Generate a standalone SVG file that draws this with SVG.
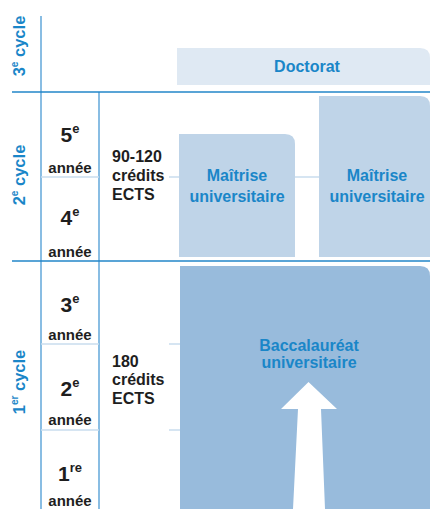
<svg xmlns="http://www.w3.org/2000/svg" width="430" height="509" viewBox="0 0 430 509">
<style>
.rule{stroke:#2286c9;stroke-width:1.5;fill:none}
.vrule{stroke:#4a9ad4;stroke-width:1.3;fill:none}
.light{stroke:#c9dcee;stroke-width:1.5;fill:none}
.cyc{font-family:"Liberation Sans",Arial,sans-serif;font-weight:bold;font-size:16.5px;fill:#1a86c8}
.yr{font-family:"Liberation Sans",Arial,sans-serif;font-weight:bold;font-size:21px;fill:#1e1e1e;text-anchor:middle}
.an{font-family:"Liberation Sans",Arial,sans-serif;font-weight:bold;font-size:15px;fill:#1e1e1e;text-anchor:middle}
.cr{font-family:"Liberation Sans",Arial,sans-serif;font-weight:bold;font-size:16px;fill:#1e1e1e}
.lab{font-family:"Liberation Sans",Arial,sans-serif;font-weight:bold;font-size:16px;fill:#1a86c8;text-anchor:middle}
.sup{font-size:13px}
.csup{font-size:10px}
</style>
<rect width="430" height="509" fill="#ffffff"/>
<g id="grid">
<line class="vrule" x1="41" y1="16" x2="41" y2="509"/>
<line class="vrule" x1="99" y1="92" x2="99" y2="509"/>
<line class="rule" x1="12" y1="92" x2="430" y2="92"/>
<line class="rule" x1="12" y1="261" x2="430" y2="261"/>
<line class="light" x1="41" y1="177" x2="99" y2="177"/>
<line class="light" x1="41" y1="344" x2="99" y2="344"/>
<line class="light" x1="41" y1="430" x2="99" y2="430"/>
</g>
<g id="cycles">
<text class="cyc" transform="translate(25,46) rotate(-90)" text-anchor="middle">3<tspan class="csup" dy="-7">e</tspan><tspan dy="7"> cycle</tspan></text>
<text class="cyc" transform="translate(25,175) rotate(-90)" text-anchor="middle">2<tspan class="csup" dy="-7">e</tspan><tspan dy="7"> cycle</tspan></text>
<text class="cyc" transform="translate(25,382) rotate(-90)" text-anchor="middle">1<tspan class="csup" dy="-7">er</tspan><tspan dy="7"> cycle</tspan></text>
</g>
<g id="years">
<text class="yr" x="70" y="142">5<tspan class="sup" dy="-9">e</tspan></text>
<text class="an" x="70" y="173">année</text>
<text class="yr" x="70" y="225">4<tspan class="sup" dy="-9">e</tspan></text>
<text class="an" x="70" y="257">année</text>
<text class="yr" x="70" y="312">3<tspan class="sup" dy="-9">e</tspan></text>
<text class="an" x="70" y="340">année</text>
<text class="yr" x="70" y="396">2<tspan class="sup" dy="-9">e</tspan></text>
<text class="an" x="70" y="425">année</text>
<text class="yr" x="70" y="481">1<tspan class="sup" dy="-9">re</tspan></text>
<text class="an" x="70" y="506">année</text>
</g>
<g id="credits">
<text class="cr" x="112" y="162">90-120</text>
<text class="cr" x="112" y="181">crédits</text>
<text class="cr" x="112" y="200">ECTS</text>
<text class="cr" x="112" y="367">180</text>
<text class="cr" x="112" y="385">crédits</text>
<text class="cr" x="112" y="404">ECTS</text>
</g>
<g id="connectors">
<line class="light" x1="169" y1="177" x2="179" y2="177"/>
<line class="light" x1="295" y1="177" x2="319" y2="177"/>
<line class="light" x1="169" y1="344" x2="180" y2="344"/>
<line class="light" x1="169" y1="430" x2="180" y2="430"/>
</g>
<g id="doctorat">
<path d="M177,48 H420 Q430,48 430,58 V85 H177 Z" fill="#dfe9f3"/>
<text class="lab" x="307" y="72">Doctorat</text>
</g>
<g id="maitrise1">
<path d="M179,134 H285 Q295,134 295,144 V257 H179 Z" fill="#bfd4e8"/>
<text class="lab" x="237" y="181">Maîtrise</text>
<text class="lab" x="237" y="202">universitaire</text>
</g>
<g id="maitrise2">
<path d="M319,96 H420 Q430,96 430,106 V257 H319 Z" fill="#bfd4e8"/>
<text class="lab" x="377" y="181">Maîtrise</text>
<text class="lab" x="377" y="202">universitaire</text>
</g>
<g id="baccalaureat">
<path d="M180,266 H420 Q430,266 430,276 V509 H180 Z" fill="#98bbdc"/>
<text class="lab" x="309" y="351">Baccalauréat</text>
<text class="lab" x="309" y="368">universitaire</text>
<polygon points="308.5,382 337,409 321,409 325,509 293,509 298,409 281,409" fill="#ffffff"/>
</g>
</svg>
